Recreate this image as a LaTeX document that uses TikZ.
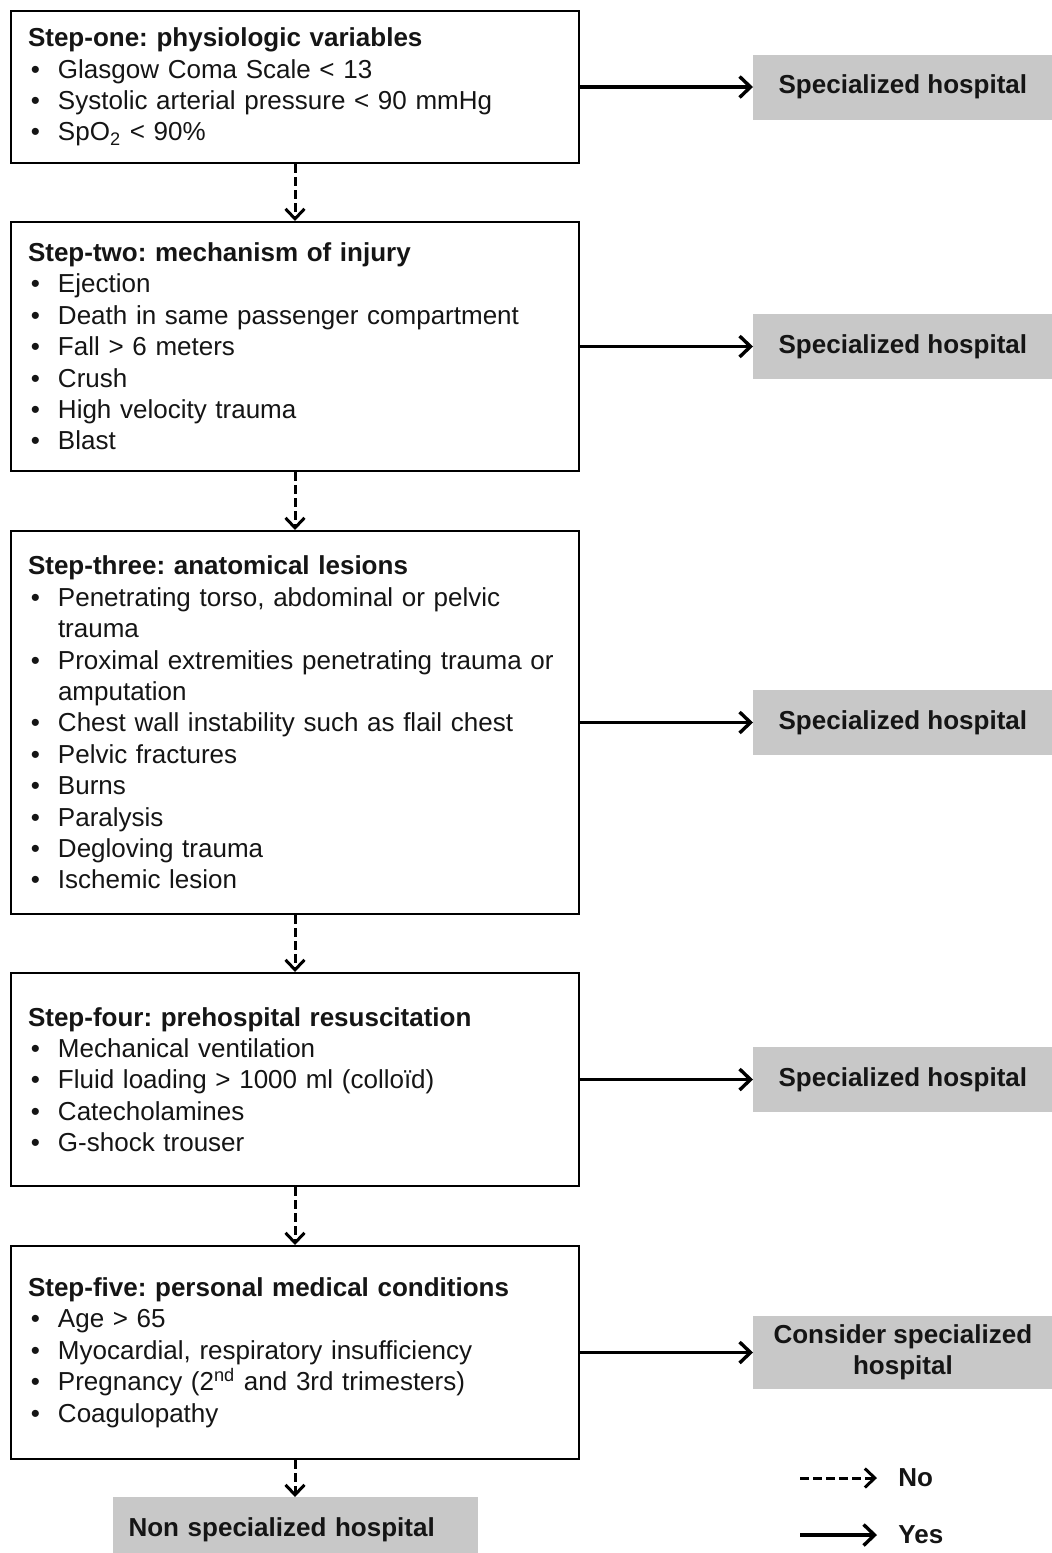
\documentclass[tikz,border=0pt]{standalone}
\usepackage{fontspec}
\setmainfont{Liberation Sans}
\usepackage{tikz}
\usetikzlibrary{positioning,arrows.meta}
\definecolor{triageGray}{HTML}{C8C8C8}
\definecolor{triageInk}{HTML}{151515}
\newcommand{\bul}{\makebox[15pt][l]{\hspace{1.5pt}\textbullet}}
\newcommand{\cont}{\hspace*{15pt}}
\frenchspacing

\begin{document}
\begin{tikzpicture}[
  stepbox/.style={rectangle, draw=black, line width=1pt, fill=white, text=triageInk, text width=267pt, inner xsep=8.5pt, align=left, minimum width=284pt, font=\fontsize{13pt}{15.7pt}\selectfont},
  hospbox/.style={rectangle, fill=triageGray, text=triageInk, align=center, minimum width=149.5pt, minimum height=32.5pt, inner sep=0pt, font=\fontsize{13pt}{15.5pt}\selectfont\bfseries},
  yesarrow/.style={-{Straight Barb[length=5.5pt,width=10.5pt]}, line width=1.7pt},
  noarrow/.style={-{Straight Barb[length=5pt,width=9.5pt]}, line width=1.5pt, dash pattern=on 4.5pt off 2pt},
  legendtext/.style={inner sep=0pt, text=triageInk, font=\fontsize{13pt}{15.7pt}\selectfont\bfseries}]
\useasboundingbox (0,0) rectangle (525.5pt,-776.5pt);

\node (one) [stepbox, minimum height=76pt, anchor=north west] at (5pt,-5pt) {\textbf{Step-one: physiologic variables}\\
\bul Glasgow Coma Scale < 13\\
\bul Systolic arterial pressure < 90 mmHg\\
\bul SpO\textsubscript{2} < 90\%};
\node (two) [stepbox, minimum height=124.5pt, below=28.5pt of one] {\textbf{Step-two: mechanism of injury}\\
\bul Ejection\\
\bul Death in same passenger compartment\\
\bul Fall > 6 meters\\
\bul Crush\\
\bul High velocity trauma\\
\bul Blast};
\node (three) [stepbox, minimum height=191.5pt, below=29pt of two] {\textbf{Step-three: anatomical lesions}\\
\bul Penetrating torso, abdominal or pelvic\\
\cont trauma\\
\bul Proximal extremities penetrating trauma or\\
\cont amputation\\
\bul Chest wall instability such as flail chest\\
\bul Pelvic fractures\\
\bul Burns\\
\bul Paralysis\\
\bul Degloving trauma\\
\bul Ischemic lesion};
\node (four) [stepbox, minimum height=106.5pt, below=28.5pt of three] {\textbf{Step-four: prehospital resuscitation}\\
\bul Mechanical ventilation\\
\bul Fluid loading > 1000 ml (colloïd)\\
\bul Catecholamines\\
\bul G-shock trouser};
\node (five) [stepbox, minimum height=106.5pt, below=29pt of four] {\textbf{Step-five: personal medical conditions}\\
\bul Age > 65\\
\bul Myocardial, respiratory insufficiency\\
\bul Pregnancy (2\textsuperscript{nd} and 3rd trimesters)\\
\bul Coagulopathy};
\node (nonspec) [hospbox, minimum width=182.5pt, text width=166.5pt, inner xsep=8pt, align=left, below=18.5pt of five] {Non specialized hospital};

\node (hospone) [hospbox, right=86.5pt of one] {Specialized hospital};
\node (hosptwo) [hospbox, right=86.5pt of two] {Specialized hospital};
\node (hospthree) [hospbox, right=86.5pt of three] {Specialized hospital};
\node (hospfour) [hospbox, right=86.5pt of four] {Specialized hospital};
\node (hospfive) [hospbox, minimum height=36.5pt, right=86.5pt of five] {Consider specialized\\hospital};

\draw[yesarrow] (one) -- (hospone);
\draw[yesarrow] (two) -- (hosptwo);
\draw[yesarrow] (three) -- (hospthree);
\draw[yesarrow] (four) -- (hospfour);
\draw[yesarrow] (five) -- (hospfive);

\draw[noarrow] (one) -- (two);
\draw[noarrow] (two) -- (three);
\draw[noarrow] (three) -- (four);
\draw[noarrow] (four) -- (five);
\draw[noarrow] (five) -- (nonspec);

\coordinate (nostart) at (400pt,-739pt);
\coordinate (noend) at (438.5pt,-739pt);
\coordinate (yesstart) at (400pt,-767.5pt);
\coordinate (yesend) at (438.5pt,-767.5pt);
\node (nolabel) [legendtext, right=10.5pt of noend] {No};
\node (yeslabel) [legendtext, right=10.5pt of yesend] {Yes};
\draw[noarrow] (nostart) -- (noend);
\draw[yesarrow] (yesstart) -- (yesend);
\end{tikzpicture}
\end{document}
